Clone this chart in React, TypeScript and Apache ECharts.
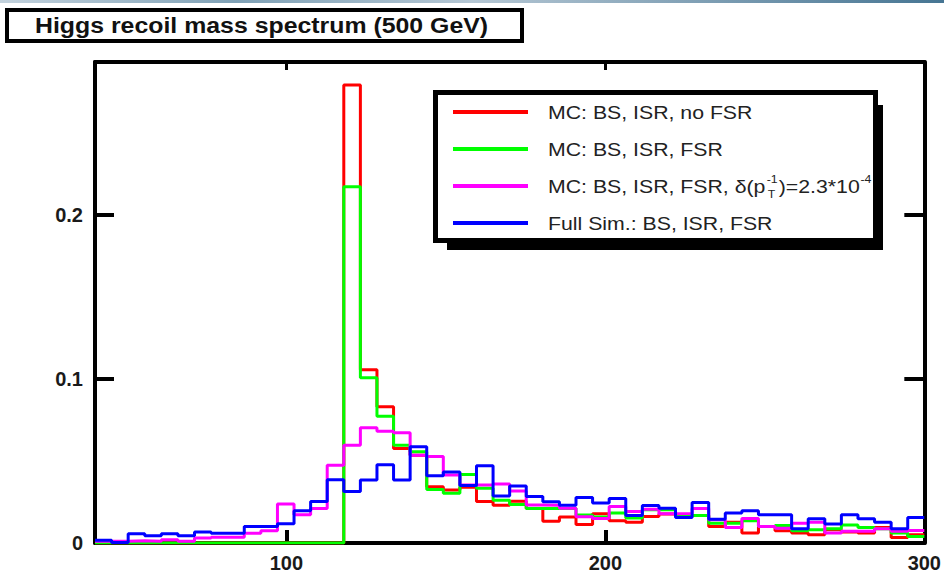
import React, { useEffect, useRef } from "react";
import * as echarts from "echarts";

// ---- axis structure ----
const X_MIN = 40;
const X_MAX = 300;
const N_BINS = 50;
const Y_MAX = 0.293;
const X_TICKS = [100, 200, 300];
const Y_TICKS = [0, 0.1, 0.2];

// ---- histogram contents (one value per 5.2 GeV bin, 40..300) ----
const noFsr = [
  0, 0, 0, 0, 0, 0, 0, 0, 0, 0,
  0, 0, 0, 0, 0, 0.279, 0.1055, 0.083, 0.0576, 0.0535,
  0.0343, 0.0323, 0.034, 0.0253, 0.023, 0.0255, 0.021, 0.0133, 0.0158, 0.0112,
  0.0178, 0.0135, 0.0127, 0.0162, 0.0176, 0.0168, 0.0168, 0.0101, 0.0127, 0.0061,
  0.0101, 0.0075, 0.0061, 0.005, 0.0081, 0.0067, 0.0061, 0.0095, 0.0034, 0.005,
];
const withFsr = [
  0, 0, 0, 0, 0, 0, 0, 0, 0, 0,
  0, 0, 0, 0, 0, 0.217, 0.1006, 0.0772, 0.0596, 0.0556,
  0.0326, 0.0303, 0.0418, 0.0333, 0.026, 0.0235, 0.021, 0.021, 0.0212, 0.017,
  0.0158, 0.0182, 0.0152, 0.0202, 0.0202, 0.0168, 0.0168, 0.0121, 0.012, 0.0135,
  0.0101, 0.0107, 0.0075, 0.0081, 0.0087, 0.011, 0.0095, 0.0087, 0.0061, 0.004,
];
const smeared = [
  0.001, 0.001, 0.0014, 0.001, 0.002, 0.001, 0.003, 0.0035, 0.0035, 0.006,
  0.0075, 0.0238, 0.0172, 0.021, 0.0474, 0.0596, 0.0702, 0.068, 0.0672, 0.0535,
  0.0527, 0.0414, 0.0354, 0.0354, 0.036, 0.0316, 0.0232, 0.023, 0.0212, 0.016,
  0.015, 0.0222, 0.0192, 0.0205, 0.0178, 0.018, 0.021, 0.0141, 0.0095, 0.015,
  0.0101, 0.009, 0.0121, 0.0127, 0.0061, 0.0071, 0.0071, 0.0087, 0.0071, 0.0076,
];
const fullSim = [
  0.0016, 0.0003, 0.0056, 0.0044, 0.0056, 0.0044, 0.0067, 0.006, 0.006, 0.0101,
  0.0101, 0.0117, 0.0196, 0.0253, 0.0386, 0.0313, 0.0384, 0.0477, 0.0384, 0.0586,
  0.041, 0.0432, 0.035, 0.047, 0.0286, 0.0347, 0.0283, 0.0252, 0.023, 0.0277,
  0.0244, 0.0271, 0.0168, 0.0228, 0.0212, 0.0156, 0.0246, 0.0144, 0.0182, 0.0196,
  0.0172, 0.0172, 0.0087, 0.0147, 0.0115, 0.0172, 0.0147, 0.0127, 0.0087, 0.0156,
];

const TITLE = "Higgs recoil mass spectrum (500 GeV)";
const SERIES_NAMES = [
  "MC: BS, ISR, no FSR",
  "MC: BS, ISR, FSR",
  "MC: BS, ISR, FSR, δ(p_T^-1)=2.3*10^-4",
  "Full Sim.: BS, ISR, FSR",
];
const SERIES_COLORS = ["#ff0000", "#00ff00", "#ff00ff", "#0000ff"];
const SERIES_DATA = [noFsr, withFsr, smeared, fullSim];

const FONT = '"Liberation Sans", Arial, Helvetica, sans-serif';

function histPoints(vals: number[]) {
  const w = (X_MAX - X_MIN) / N_BINS;
  const pts: number[][] = vals.map((v, i) => [X_MIN + i * w, v]);
  pts.push([X_MAX, vals[vals.length - 1]]);
  return pts;
}

export default function App() {
  const ref = useRef<HTMLDivElement>(null);

  useEffect(() => {
    if (!ref.current) return;
    const chart = echarts.init(ref.current, undefined, { renderer: "svg" });

    const canvas = document.createElement("canvas");
    const ctx = canvas.getContext("2d")!;
    const tw = (t: string, size: number, weight = "normal") => {
      ctx.font = `${weight} ${size}px "Liberation Sans"`;
      return ctx.measureText(t).width;
    };

    const LEG_FS = 19;
    const SUP_FS = 11;
    const SX = 1.12;
    const LX = 548;
    const rowsY = [112, 149, 186, 223];

    const legText = (text: string, x: number, y: number, size = LEG_FS) => ({
      type: "text",
      z: 60,
      x,
      y,
      scaleX: SX,
      style: {
        text,
        fontSize: size,
        fontFamily: FONT,
        fill: "#222",
        verticalAlign: "middle",
        align: "left",
      },
    });

    const legendEls: any[] = [];
    SERIES_NAMES.forEach((name, i) => {
      legendEls.push({
        type: "line",
        z: 60,
        shape: { x1: 453, y1: rowsY[i], x2: 528, y2: rowsY[i] },
        style: { stroke: SERIES_COLORS[i], lineWidth: 4 },
      });
      if (i !== 2) {
        legendEls.push(legText(name, LX, rowsY[i]));
      } else {
        const y = rowsY[i];
        const p1 = "MC: BS, ISR, FSR, δ(p";
        const w1 = tw(p1, LEG_FS);
        const wSS = Math.max(tw("-1", SUP_FS), tw("T", SUP_FS));
        const p3 = ")=2.3*10";
        const w3 = tw(p3, LEG_FS);
        legendEls.push(legText(p1, LX, y));
        legendEls.push(legText("-1", LX + (w1 + 1) * SX, y - 7, SUP_FS));
        legendEls.push(legText("T", LX + (w1 + 2) * SX, y + 8, SUP_FS));
        legendEls.push(legText(p3, LX + (w1 + wSS + 2) * SX, y));
        legendEls.push(legText("-4", LX + (w1 + wSS + 2.5 + w3) * SX, y - 7, SUP_FS));
      }
    });

    const axisLineStyle = { show: true, onZero: false, lineStyle: { color: "#000", width: 4 } };
    const labelStyle = {
      fontSize: 20,
      fontWeight: "bold",
      fontFamily: FONT,
      color: "#1a1a1a",
    };

    const option: any = {
      animation: false,
      backgroundColor: "#ffffff",
      grid: { left: 95, right: 18, top: 62, bottom: 28, containLabel: false },
      xAxis: [
        {
          type: "value",
          min: X_MIN,
          max: X_MAX,
          position: "bottom",
          axisLine: axisLineStyle,
          axisTick: {
            show: true,
            inside: true,
            length: 13,
            customValues: [100, 200],
            lineStyle: { color: "#000", width: 4 },
          },
          axisLabel: { ...labelStyle, customValues: X_TICKS, margin: 10 },
          splitLine: { show: false },
        },
        {
          type: "value",
          min: X_MIN,
          max: X_MAX,
          position: "top",
          axisLine: axisLineStyle,
          axisTick: {
            show: true,
            inside: true,
            length: 8,
            customValues: [100, 200],
            lineStyle: { color: "#000", width: 3 },
          },
          axisLabel: { show: false },
          splitLine: { show: false },
        },
      ],
      yAxis: [
        {
          type: "value",
          min: 0,
          max: Y_MAX,
          position: "left",
          axisLine: axisLineStyle,
          axisTick: {
            show: true,
            inside: true,
            length: 19,
            customValues: [0.1, 0.2],
            lineStyle: { color: "#000", width: 4 },
          },
          axisLabel: { ...labelStyle, customValues: Y_TICKS, margin: 12 },
          splitLine: { show: false },
        },
        {
          type: "value",
          min: 0,
          max: Y_MAX,
          position: "right",
          axisLine: axisLineStyle,
          axisTick: {
            show: true,
            inside: true,
            length: 20,
            customValues: [0.1, 0.2],
            lineStyle: { color: "#000", width: 4 },
          },
          axisLabel: { show: false },
          splitLine: { show: false },
        },
      ],
      series: SERIES_DATA.map((vals, i) => ({
        name: SERIES_NAMES[i],
        type: "line",
        step: "end",
        symbol: "none",
        xAxisIndex: 0,
        yAxisIndex: 0,
        data: histPoints(vals),
        lineStyle: { color: SERIES_COLORS[i], width: 3 },
        z: 2 + i,
      })),
      graphic: [
        {
          type: "rect",
          z: 0,
          shape: { x: 0, y: 0, width: 944, height: 3 },
          style: {
            fill: new echarts.graphic.LinearGradient(0, 0, 1, 0, [
              { offset: 0, color: "#c3d2dd" },
              { offset: 0.25, color: "#7fa1b6" },
              { offset: 0.5, color: "#b5c7d4" },
              { offset: 1, color: "#467593" },
            ]),
          },
        },
        {
          type: "rect",
          z: 10,
          shape: { x: 7, y: 10, width: 515, height: 31 },
          style: { fill: "#fff", stroke: "#000", lineWidth: 4 },
        },
        {
          type: "text",
          z: 11,
          x: 35,
          y: 25.5,
          scaleX: 1.13,
          style: {
            text: TITLE,
            fontSize: 22,
            fontWeight: "bold",
            fontFamily: FONT,
            fill: "#111",
            verticalAlign: "middle",
            align: "left",
          },
        },
        {
          type: "rect",
          z: 50,
          shape: { x: 447, y: 105, width: 436, height: 145 },
          style: { fill: "#000" },
        },
        {
          type: "rect",
          z: 51,
          shape: { x: 435.5, y: 92.5, width: 440, height: 148 },
          style: { fill: "#fff", stroke: "#000", lineWidth: 5 },
        },
        ...legendEls,
      ],
    };

    chart.setOption(option);
    return () => chart.dispose();
  }, []);

  return (
    <div
      ref={ref}
      style={{ position: "fixed", left: 0, top: 0, width: 944, height: 573, background: "#fff" }}
    />
  );
}
